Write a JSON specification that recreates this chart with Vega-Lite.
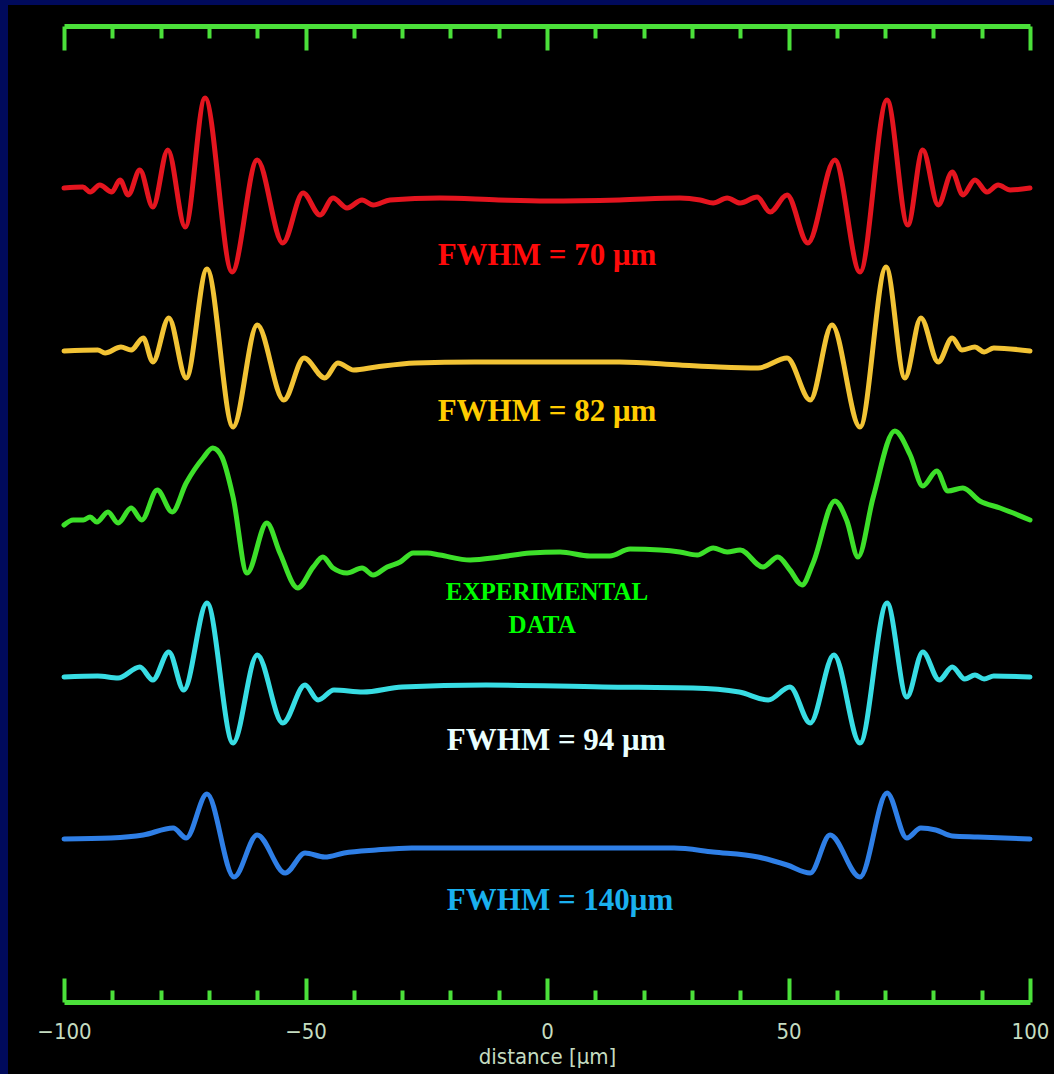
{
  "$schema": "https://vega.github.io/schema/vega-lite/v6.json",
  "autosize": {"type": "none"},
  "padding": {"left": 8, "top": 5, "right": 0, "bottom": 0},
  "width": 1046,
  "height": 1069,
  "background": "#000a5c",
  "config": {"view": {"fill": "#000000", "stroke": null}},
  "datasets": {
    "traces": [
      {"s":"70","x":-100,"y":81.4},{"s":"70","x":-96.1,"y":81.5},{"s":"70","x":-94.6,"y":81.0},{"s":"70","x":-92.6,"y":81.7},{"s":"70","x":-90.1,"y":81.0},{"s":"70","x":-88.4,"y":82.2},{"s":"70","x":-86.7,"y":80.7},{"s":"70","x":-84.3,"y":83.2},{"s":"70","x":-81.6,"y":79.5},{"s":"70","x":-78.5,"y":85.2},{"s":"70","x":-74.9,"y":77.5},{"s":"70","x":-70.8,"y":90.4},{"s":"70","x":-65.2,"y":73.0},{"s":"70","x":-60.0,"y":84.2},{"s":"70","x":-54.7,"y":75.9},{"s":"70","x":-50.5,"y":80.9},{"s":"70","x":-47.0,"y":78.7},{"s":"70","x":-44.3,"y":80.4},{"s":"70","x":-41.4,"y":79.4},{"s":"70","x":-38.3,"y":80.2},{"s":"70","x":-36.0,"y":79.7},{"s":"70","x":-32.5,"y":80.2},{"s":"70","x":-22.2,"y":80.4},{"s":"70","x":-10,"y":80.2},{"s":"70","x":0,"y":80.1},{"s":"70","x":15,"y":80.2},{"s":"70","x":27.5,"y":80.4},{"s":"70","x":31.7,"y":80.2},{"s":"70","x":34.4,"y":79.9},{"s":"70","x":37.3,"y":80.4},{"s":"70","x":40.0,"y":79.9},{"s":"70","x":43.5,"y":80.5},{"s":"70","x":46.2,"y":79.0},{"s":"70","x":49.7,"y":80.7},{"s":"70","x":54.0,"y":75.9},{"s":"70","x":59.6,"y":84.2},{"s":"70","x":64.8,"y":73.0},{"s":"70","x":70.4,"y":90.2},{"s":"70","x":74.7,"y":77.7},{"s":"70","x":77.8,"y":85.2},{"s":"70","x":81.0,"y":79.7},{"s":"70","x":83.9,"y":83.0},{"s":"70","x":86.1,"y":80.7},{"s":"70","x":88.6,"y":82.2},{"s":"70","x":91.1,"y":81.0},{"s":"70","x":93.4,"y":81.7},{"s":"70","x":95.9,"y":81.2},{"s":"70","x":100,"y":81.4},
      {"s":"82","x":-100,"y":65.1},{"s":"82","x":-93.0,"y":65.2},{"s":"82","x":-91.5,"y":64.9},{"s":"82","x":-88.2,"y":65.5},{"s":"82","x":-86.1,"y":65.2},{"s":"82","x":-83.6,"y":66.4},{"s":"82","x":-81.6,"y":64.0},{"s":"82","x":-78.3,"y":68.4},{"s":"82","x":-74.7,"y":62.4},{"s":"82","x":-70.4,"y":73.3},{"s":"82","x":-65.0,"y":57.5},{"s":"82","x":-60.0,"y":67.7},{"s":"82","x":-54.5,"y":60.2},{"s":"82","x":-50.3,"y":64.4},{"s":"82","x":-46.0,"y":62.4},{"s":"82","x":-43.3,"y":63.9},{"s":"82","x":-40.0,"y":63.2},{"s":"82","x":-35.4,"y":63.5},{"s":"82","x":-27.3,"y":63.9},{"s":"82","x":-15,"y":64.0},{"s":"82","x":0,"y":64.0},{"s":"82","x":15,"y":64.0},{"s":"82","x":27.5,"y":63.7},{"s":"82","x":35.6,"y":63.5},{"s":"82","x":43.7,"y":63.4},{"s":"82","x":49.7,"y":64.4},{"s":"82","x":54.5,"y":60.2},{"s":"82","x":59.0,"y":67.7},{"s":"82","x":64.8,"y":57.5},{"s":"82","x":70.2,"y":73.5},{"s":"82","x":74.1,"y":62.4},{"s":"82","x":77.4,"y":68.4},{"s":"82","x":81.0,"y":64.0},{"s":"82","x":83.9,"y":66.4},{"s":"82","x":85.9,"y":65.2},{"s":"82","x":88.6,"y":65.5},{"s":"82","x":90.5,"y":65.0},{"s":"82","x":92.5,"y":65.4},{"s":"82","x":100,"y":65.1},
      {"s":"exp","x":-100,"y":47.7},{"s":"exp","x":-98.1,"y":48.2},{"s":"exp","x":-96.0,"y":48.2},{"s":"exp","x":-94.6,"y":48.5},{"s":"exp","x":-93.2,"y":48.0},{"s":"exp","x":-90.9,"y":49.0},{"s":"exp","x":-88.8,"y":47.9},{"s":"exp","x":-86.1,"y":49.4},{"s":"exp","x":-83.9,"y":48.2},{"s":"exp","x":-80.7,"y":51.2},{"s":"exp","x":-77.6,"y":49.0},{"s":"exp","x":-74.7,"y":51.9},{"s":"exp","x":-71.2,"y":54.4},{"s":"exp","x":-69.2,"y":55.4},{"s":"exp","x":-67.3,"y":54.5},{"s":"exp","x":-65.0,"y":50.5},{"s":"exp","x":-62.1,"y":42.9},{"s":"exp","x":-58.0,"y":47.9},{"s":"exp","x":-55.3,"y":44.9},{"s":"exp","x":-51.6,"y":41.4},{"s":"exp","x":-48.4,"y":43.5},{"s":"exp","x":-46.4,"y":44.5},{"s":"exp","x":-44.3,"y":43.4},{"s":"exp","x":-41.4,"y":42.9},{"s":"exp","x":-38.3,"y":43.4},{"s":"exp","x":-36.0,"y":42.7},{"s":"exp","x":-33.1,"y":43.5},{"s":"exp","x":-30.4,"y":44.0},{"s":"exp","x":-27.7,"y":44.9},{"s":"exp","x":-24.8,"y":44.9},{"s":"exp","x":-22.2,"y":44.7},{"s":"exp","x":-15.9,"y":44.2},{"s":"exp","x":-9.7,"y":44.5},{"s":"exp","x":-3.5,"y":44.9},{"s":"exp","x":2.7,"y":45.0},{"s":"exp","x":8.9,"y":44.6},{"s":"exp","x":13.0,"y":44.6},{"s":"exp","x":17.2,"y":45.3},{"s":"exp","x":23.4,"y":45.2},{"s":"exp","x":27.5,"y":45.0},{"s":"exp","x":31.1,"y":44.7},{"s":"exp","x":34.4,"y":45.4},{"s":"exp","x":37.3,"y":45.0},{"s":"exp","x":40.0,"y":45.2},{"s":"exp","x":44.7,"y":43.5},{"s":"exp","x":47.8,"y":44.5},{"s":"exp","x":50.3,"y":43.2},{"s":"exp","x":52.8,"y":41.7},{"s":"exp","x":55.1,"y":43.9},{"s":"exp","x":59.6,"y":50.1},{"s":"exp","x":62.1,"y":48.1},{"s":"exp","x":64.4,"y":44.5},{"s":"exp","x":67.5,"y":50.4},{"s":"exp","x":72.0,"y":57.1},{"s":"exp","x":75.2,"y":54.7},{"s":"exp","x":77.8,"y":51.6},{"s":"exp","x":80.7,"y":53.1},{"s":"exp","x":83.0,"y":51.1},{"s":"exp","x":86.1,"y":51.4},{"s":"exp","x":89.6,"y":50.1},{"s":"exp","x":93.8,"y":49.4},{"s":"exp","x":100,"y":48.2},
      {"s":"94","x":-100,"y":32.5},{"s":"94","x":-93.0,"y":32.6},{"s":"94","x":-88.8,"y":32.4},{"s":"94","x":-84.3,"y":33.5},{"s":"94","x":-81.6,"y":32.2},{"s":"94","x":-78.3,"y":35.0},{"s":"94","x":-75.2,"y":31.2},{"s":"94","x":-70.4,"y":39.9},{"s":"94","x":-65.0,"y":25.9},{"s":"94","x":-60.0,"y":34.7},{"s":"94","x":-54.7,"y":27.9},{"s":"94","x":-50.1,"y":31.7},{"s":"94","x":-47.4,"y":30.2},{"s":"94","x":-44.1,"y":31.2},{"s":"94","x":-38.1,"y":31.0},{"s":"94","x":-30.0,"y":31.5},{"s":"94","x":-12.6,"y":31.7},{"s":"94","x":11.6,"y":31.5},{"s":"94","x":30.2,"y":31.4},{"s":"94","x":39.8,"y":31.0},{"s":"94","x":45.8,"y":30.2},{"s":"94","x":50.3,"y":31.5},{"s":"94","x":54.5,"y":27.9},{"s":"94","x":59.4,"y":34.7},{"s":"94","x":64.8,"y":25.9},{"s":"94","x":70.4,"y":39.9},{"s":"94","x":74.5,"y":30.5},{"s":"94","x":77.8,"y":35.0},{"s":"94","x":81.2,"y":32.2},{"s":"94","x":83.9,"y":33.5},{"s":"94","x":86.5,"y":32.3},{"s":"94","x":88.6,"y":32.7},{"s":"94","x":90.5,"y":32.3},{"s":"94","x":92.5,"y":32.6},{"s":"94","x":100,"y":32.5},
      {"s":"140","x":-100,"y":16.3},{"s":"140","x":-90.3,"y":16.4},{"s":"140","x":-83.6,"y":16.7},{"s":"140","x":-77.4,"y":17.4},{"s":"140","x":-74.7,"y":16.4},{"s":"140","x":-70.4,"y":20.8},{"s":"140","x":-64.8,"y":12.5},{"s":"140","x":-60.0,"y":16.7},{"s":"140","x":-54.2,"y":12.9},{"s":"140","x":-50.1,"y":14.9},{"s":"140","x":-46.0,"y":14.5},{"s":"140","x":-42.0,"y":14.9},{"s":"140","x":-35.4,"y":15.2},{"s":"140","x":-28.0,"y":15.4},{"s":"140","x":-11.2,"y":15.4},{"s":"140","x":26.3,"y":15.4},{"s":"140","x":34.4,"y":15.0},{"s":"140","x":43.7,"y":14.5},{"s":"140","x":49.7,"y":13.7},{"s":"140","x":54.5,"y":12.9},{"s":"140","x":58.6,"y":16.7},{"s":"140","x":64.8,"y":12.5},{"s":"140","x":70.4,"y":20.9},{"s":"140","x":74.5,"y":16.4},{"s":"140","x":77.4,"y":17.4},{"s":"140","x":80.5,"y":17.2},{"s":"140","x":83.9,"y":16.6},{"s":"140","x":89.2,"y":16.5},{"s":"140","x":100,"y":16.3}
    ],
    "labels": [
      {"t":"FWHM = 70 μm","c":"70","x":0,"y":74.6},
      {"t":"FWHM = 82 μm","c":"82","x":0,"y":59.0},
      {"t":"FWHM = 94 μm","c":"94","x":1.9,"y":26.1},
      {"t":"FWHM = 140μm","c":"140","x":2.7,"y":10.1}
    ],
    "exp": [
      {"t":"EXPERIMENTAL","x":0,"y":41.0},
      {"t":"DATA","x":-1,"y":37.7}
    ]
  },
  "layer": [
    {
      "data": {"name": "traces"},
      "mark": {"type": "line", "interpolate": "monotone", "strokeWidth": 5, "strokeCap": "round", "strokeJoin": "round"},
      "encoding": {
        "x": {
          "field": "x", "type": "quantitative",
          "scale": {"domain": [-100, 100], "range": [56, 1022], "nice": false, "zero": false},
          "axis": {
            "orient": "bottom", "offset": -72,
            "values": [-100,-90,-80,-70,-60,-50,-40,-30,-20,-10,0,10,20,30,40,50,60,70,80,90,100],
            "grid": false,
            "domainColor": "#4be03a", "domainWidth": 5,
            "tickColor": "#4be03a", "tickWidth": 4,
            "tickSize": {"condition": {"test": "datum.value % 50 === 0", "value": -24}, "value": -12},
            "labelExpr": "datum.value % 50 === 0 ? datum.label : ''",
            "labelColor": "#c5dcc0", "labelFont": "Liberation Sans Narrow, DejaVu Sans Condensed, Liberation Sans",
            "labelFontSize": 22, "labelPadding": 43, "labelFlush": false, "labelOverlap": false,
            "title": "distance [μm]", "titleColor": "#c5dcc0",
            "titleFont": "Liberation Sans Narrow, DejaVu Sans Condensed, Liberation Sans",
            "titleFontSize": 22, "titleFontWeight": "normal", "titlePadding": -8
          }
        },
        "y": {"field": "y", "type": "quantitative", "scale": {"domain": [0, 97.6], "range": [997, 21], "nice": false, "zero": false}, "axis": null},
        "color": {
          "field": "s", "type": "nominal",
          "scale": {"domain": ["70","82","exp","94","140"], "range": ["#e4151f","#f2c335","#3de02a","#38dde4","#2f7fe6"]},
          "legend": null
        }
      }
    },
    {
      "data": {"name": "labels"},
      "mark": {"type": "text", "font": "Liberation Serif", "fontWeight": "bold", "fontSize": 31, "align": "center", "baseline": "middle"},
      "encoding": {
        "x": {
          "field": "x", "type": "quantitative",
          "axis": {
            "orient": "top", "offset": -21,
            "values": [-100,-90,-80,-70,-60,-50,-40,-30,-20,-10,0,10,20,30,40,50,60,70,80,90,100],
            "grid": false, "labels": false, "title": null,
            "domainColor": "#4be03a", "domainWidth": 5,
            "tickColor": "#4be03a", "tickWidth": 4,
            "tickSize": {"condition": {"test": "datum.value % 50 === 0", "value": -24}, "value": -12}
          }
        },
        "y": {"field": "y", "type": "quantitative", "axis": null},
        "text": {"field": "t", "type": "nominal"},
        "color": {
          "field": "c", "type": "nominal",
          "scale": {"domain": ["70","82","94","140"], "range": ["#ff0a0a","#ffcc00","#eaffff","#1ab0ee"]},
          "legend": null
        }
      }
    },
    {
      "data": {"name": "exp"},
      "mark": {"type": "text", "font": "Liberation Serif", "fontWeight": "bold", "fontSize": 25, "align": "center", "baseline": "middle", "color": "#00ff00"},
      "encoding": {
        "x": {"field": "x", "type": "quantitative", "axis": null},
        "y": {"field": "y", "type": "quantitative", "axis": null},
        "text": {"field": "t", "type": "nominal"}
      }
    }
  ],
  "resolve": {"axis": {"x": "independent"}, "scale": {"color": "independent"}}
}
